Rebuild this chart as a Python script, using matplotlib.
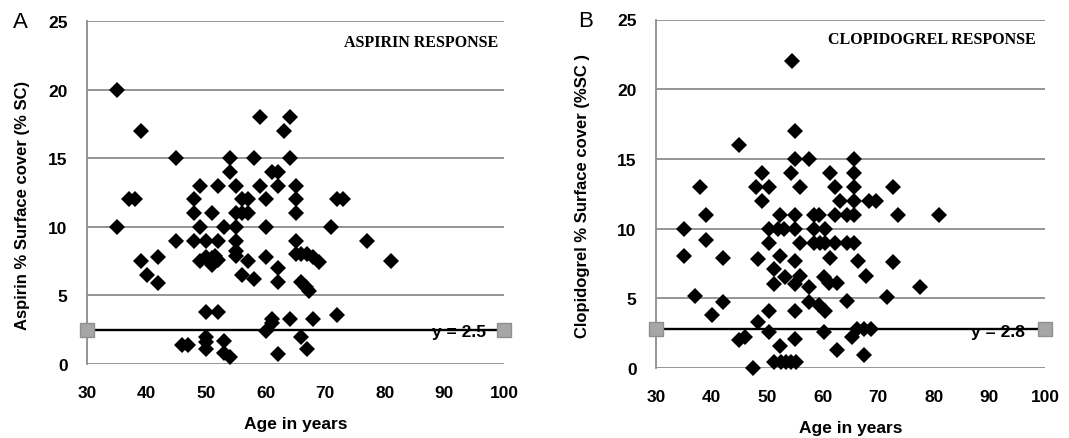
import matplotlib
matplotlib.use("Agg")
import matplotlib.pyplot as plt

# Aspirin panel (A): age vs % surface cover
aspirin_age = [35, 35, 37, 38, 39, 39, 40, 42, 42, 45,
               45, 46, 47, 48, 48, 48, 49, 49, 49, 50,
               50, 50, 50, 50, 50, 51, 51, 51, 51.5, 52,
               52, 52, 52, 53, 53, 53, 54, 54, 54, 55,
               55, 55, 55, 55, 55, 56, 56, 56, 57, 57,
               57, 58, 58, 59, 59, 60, 60, 60, 60, 61,
               61, 61, 62, 62, 62, 62, 62, 63, 64, 64,
               64, 65, 65, 65, 65, 65, 66, 66, 66, 66.8,
               67.3, 67, 68, 69, 67, 68, 71, 72, 73, 72,
               77, 81]
aspirin_sc = [20, 10, 12, 12, 17, 7.5, 6.5, 7.8, 5.9, 15,
              9, 1.4, 1.4, 12, 11, 9, 13, 10, 7.5, 9,
              7.8, 3.8, 2.0, 1.6, 1.1, 11, 7.7, 7.2, 7.9, 13,
              9, 7.6, 3.8, 10, 1.7, 0.8, 15, 14, 0.5, 13,
              11, 10, 9, 8.2, 7.9, 11, 12, 6.5, 11, 12,
              7.5, 15, 6.2, 18, 13, 12, 10, 7.8, 2.4, 3.0,
              3.3, 14, 14, 13, 7.0, 6.0, 0.7, 17, 18, 15,
              3.3, 13, 12, 11, 9, 8, 8, 6, 2, 5.6,
              5.3, 8, 7.8, 7.4, 1.1, 3.3, 10, 12, 12, 3.6,
              9, 7.5]
aspirin_cut = 2.5

# Clopidogrel panel (B)
clop_age = [35, 35, 37, 38, 39, 39, 40, 42, 42, 45,
            45, 46, 47.4, 48, 48.3, 48.3, 49, 49, 50.4, 50.4,
            50.4, 50.4, 50.4, 51.3, 51.3, 51.3, 52.4, 52, 52.4, 52.4,
            52.5, 53.1, 53.2, 53.4, 54.3, 54.4, 54.3, 55, 55, 55,
            55, 55, 55, 55, 55, 55.2, 56, 56, 56, 57.6,
            57.6, 57.6, 58.5, 58.5, 58.5, 59.4, 59.5, 59.4, 60.5, 60.5,
            60.2, 60.5, 60.2, 61.4, 61.4, 61.1, 62.3, 62.3, 62.3, 62.6,
            62.5, 63.2, 64.4, 64.4, 64.4, 65.6, 65.6, 65.6, 65.6, 65.6,
            65.6, 65.3, 66.2, 66.4, 67.4, 67.7, 67.5, 68.6, 68.3, 69.5,
            71.5, 72.6, 72.6, 73.6, 77.5, 81]
clop_sc = [10, 8, 5.2, 13, 11, 9.2, 3.8, 7.9, 4.7, 16,
           2, 2.2, 0, 13, 7.8, 3.3, 14, 12, 13, 10,
           9, 4.1, 2.6, 7.1, 6, 0.4, 11, 10, 8, 1.6,
           0.4, 10, 6.5, 0.4, 14, 22, 0.4, 17, 15, 11,
           10, 7.7, 6, 4.1, 2.1, 0.4, 13, 9, 6.6, 15,
           5.8, 4.7, 11, 10, 9, 11, 9, 4.5, 10, 9,
           6.5, 4.1, 2.6, 14, 7.9, 6.1, 13, 11, 9, 6.1,
           1.3, 12, 11, 9, 4.8, 15, 14, 13, 12, 11,
           9, 2.2, 2.8, 7.7, 2.8, 6.6, 0.9, 2.8, 12, 12,
           5.1, 13, 7.6, 11, 5.8, 11]
clop_cut = 2.8

x_ticks = [30, 40, 50, 60, 70, 80, 90, 100]
y_ticks = [0, 5, 10, 15, 20, 25]

plt.rcParams['font.family'] = ['Liberation Sans', 'DejaVu Sans']
plt.rcParams['font.weight'] = 'bold'
plt.rcParams['axes.labelweight'] = 'bold'
GRID = '#8c8c8c'

W, H = 1069, 439
fig = plt.figure(figsize=(W / 100, H / 100), dpi=100)

axA = fig.add_axes([87 / W, 1 - 365 / H, 417 / W, 343 / H])
axB = fig.add_axes([656 / W, 1 - 369 / H, 389 / W, 348.5 / H])


def draw_panel(ax, ages, vals, cut, ylabel, title, ylab_xy, title_xy, cut_x):
    ax.set_xlim(30, 100)
    ax.set_ylim(0, 25)
    ax.set_xticks(x_ticks)
    ax.set_yticks(y_ticks)
    ax.grid(axis='y', color=GRID, lw=1.3)
    ax.set_axisbelow(True)
    for s in ['top', 'right', 'bottom']:
        ax.spines[s].set_visible(False)
    ax.spines['left'].set_color(GRID)
    ax.spines['left'].set_linewidth(1.3)
    ax.tick_params(length=0, labelsize=12.5)
    ax.tick_params(axis='y', pad=14)
    ax.tick_params(axis='x', pad=15)

    # cut-off line with grey end squares
    ax.plot([30, 100], [cut, cut], color='black', lw=1.7, marker='s', ms=10,
            mfc='#a6a6a6', mec='#8f8f8f', mew=1, clip_on=False, zorder=3)
    ax.text(cut_x, cut - 0.15, f'y = {cut}', ha='center', va='center',
            fontsize=12.5, fontweight='bold', zorder=3.5)

    ax.plot(ages, vals, linestyle='none', marker='D', ms=8.3, color='black',
            mew=0, clip_on=False, zorder=4)

    ax.set_xlabel('Age in years', fontsize=12.5, fontweight='bold', va='center')
    ax.set_ylabel(ylabel, fontsize=12, fontweight='bold', va='center')
    ax.yaxis.set_label_coords(*ylab_xy)
    ax.text(title_xy[0], title_xy[1], title, transform=ax.transAxes, ha='right',
            va='center', fontsize=11.5, fontweight='bold', family='Liberation Serif')


draw_panel(axA, aspirin_age, aspirin_sc, aspirin_cut,
           'Aspirin % Surface cover (% SC)', 'ASPIRIN RESPONSE',
           (-0.1535, 0.466), (0.986, 0.939), 92.5)
axA.xaxis.set_label_coords(0.5, -(425 - 365) / 343)

draw_panel(axB, clop_age, clop_sc, clop_cut,
           'Clopidogrel % Surface cover (%SC )', 'CLOPIDOGREL RESPONSE',
           (-0.1877, 0.496), (0.977, 0.944), 91.5)
axB.xaxis.set_label_coords(0.5, -(428 - 369) / 348.5)

fig.text(13 / W, 1 - 28 / H, 'A', fontsize=16, fontweight='normal', va='baseline')
fig.text(578 / W, 1 - 27 / H, 'B', fontsize=16, fontweight='normal', va='baseline')

fig.savefig('out.png', dpi=100)
